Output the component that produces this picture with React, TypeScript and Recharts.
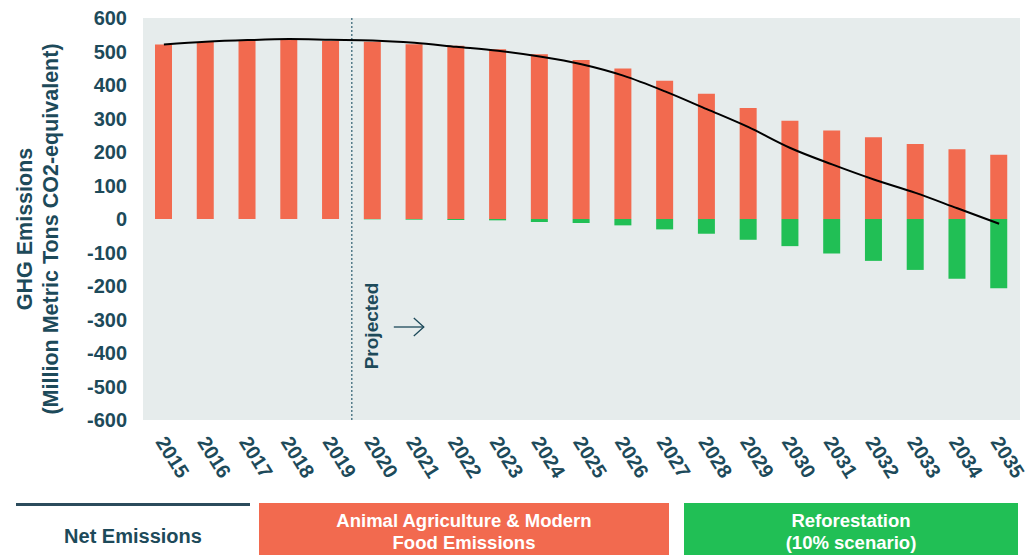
import React from 'react';
import { ComposedChart, Bar, Line, XAxis, YAxis, CartesianGrid, ReferenceLine } from 'recharts';

const years = ['2015','2016','2017','2018','2019','2020','2021','2022','2023','2024','2025','2026','2027','2028','2029','2030','2031','2032','2033','2034','2035'];
const foodEmissions = [521, 528, 531, 534, 531, 529, 522, 517, 507, 492, 475, 449, 413, 374, 331, 293, 264, 244, 224, 208, 192];
const reforestation = [0, 0, 0, 0, 0, -1, -2, -3, -4, -9, -12, -19, -31, -44, -62, -81, -103, -125, -152, -178, -207];
const netEmissions = [521, 529, 534, 537, 535, 533, 526, 514, 502, 485, 462, 428, 381, 328, 274, 212, 163, 118, 78, 32, -14];
const yTicks = [-600, -500, -400, -300, -200, -100, 0, 100, 200, 300, 400, 500, 600];

const data = years.map((year, i) => ({
  year,
  food: foodEmissions[i],
  forest: reforestation[i],
  net: netEmissions[i],
}));

const TEXT = '#1d4a5a';
const ORANGE = '#f26a4f';
const GREEN = '#21bf55';
const FONT = "'Liberation Sans', Arial, Helvetica, sans-serif";

const XTick = (props: any) => {
  const { x, y, payload } = props;
  const tx = x - 9;
  const ty = y + 14;
  return (
    <text x={tx} y={ty} transform={`rotate(58, ${tx}, ${ty})`} textAnchor="start" fill={TEXT}
      fontSize={20} fontWeight={700} fontFamily={FONT}>
      {payload.value}
    </text>
  );
};

const YLabel = (props: any) => {
  const vb = props.viewBox || { x: 0, y: 18, width: 143, height: 402 };
  const cy = vb.y + vb.height / 2 + 10;
  return (
    <g fill={TEXT} fontSize={21.5} fontWeight={700} fontFamily={FONT}>
      <text x={25} y={cy} transform={`rotate(-90, 25, ${cy})`} textAnchor="middle" dominantBaseline="central">GHG Emissions</text>
      <text x={51} y={cy} transform={`rotate(-90, 51, ${cy})`} textAnchor="middle" dominantBaseline="central">(Million Metric Tons CO2-equivalent)</text>
    </g>
  );
};

const ProjectedLabel = (props: any) => {
  const vb = props.viewBox || { x: 351, y: 18, height: 402 };
  const lx = vb.x + 20;
  const ly = vb.y + 308;
  const ax = vb.x + 42;
  const ay = vb.y + 309;
  return (
    <g>
      <text x={lx} y={ly} transform={`rotate(-90, ${lx}, ${ly})`} textAnchor="middle" dominantBaseline="central"
        fill={TEXT} fontSize={19} fontWeight={700} fontFamily={FONT}>Projected</text>
      <line x1={ax} y1={ay} x2={ax + 30} y2={ay} stroke={TEXT} strokeWidth={1.3} />
      <polyline points={`${ax + 20},${ay - 9} ${ax + 30},${ay} ${ax + 20},${ay + 9}`} fill="none" stroke={TEXT} strokeWidth={1.3} />
    </g>
  );
};

export default function App() {
  return (
    <div style={{ position: 'absolute', left: 0, top: 0, width: 1036, height: 555, background: '#fff', fontFamily: FONT }}>
      <ComposedChart width={1036} height={495} data={data} stackOffset="sign"
        margin={{ top: 18, right: 16, bottom: 15, left: 0 }}>
        <CartesianGrid horizontal={false} vertical={false} fill="#e6ecec" stroke="none" />
        <XAxis dataKey="year" axisLine={false} tickLine={false} interval={0} height={60} tick={<XTick />} />
        <YAxis type="number" domain={[-600, 600]} ticks={yTicks} width={143} axisLine={false} tickLine={false}
          tickMargin={10} interval={0}
          tick={{ fill: TEXT, fontSize: 20, fontWeight: 700, fontFamily: FONT }}
          label={<YLabel />} />
        <ReferenceLine x="2020" position="start" stroke="#3d6a7a" strokeWidth={1.3} strokeDasharray="2 2" label={<ProjectedLabel />} />
        <Bar dataKey="food" stackId="a" fill={ORANGE} barSize={17} isAnimationActive={false} />
        <Bar dataKey="forest" stackId="a" fill={GREEN} barSize={17} isAnimationActive={false} />
        <Line dataKey="net" type="monotone" stroke="#000" strokeWidth={2} dot={false} activeDot={false} isAnimationActive={false} />
      </ComposedChart>

      <div style={{ position: 'absolute', left: 16, top: 503, width: 234, height: 3, background: '#2b4b5c' }} />
      <div style={{ position: 'absolute', left: 16, top: 517, width: 234, height: 38, display: 'flex', alignItems: 'center', justifyContent: 'center', color: TEXT, fontSize: 20, fontWeight: 700 }}>
        Net Emissions
      </div>
      <div style={{ position: 'absolute', left: 259, top: 503, width: 410, height: 52, paddingTop: 5, boxSizing: 'border-box', background: ORANGE, color: '#fff', fontSize: 18.5, fontWeight: 700, lineHeight: '22px', display: 'flex', flexDirection: 'column', alignItems: 'center', justifyContent: 'center', textAlign: 'center' }}>
        <div>Animal Agriculture &amp; Modern</div>
        <div>Food Emissions</div>
      </div>
      <div style={{ position: 'absolute', left: 684, top: 503, width: 334, height: 52, paddingTop: 5, boxSizing: 'border-box', background: GREEN, color: '#fff', fontSize: 18.5, fontWeight: 700, lineHeight: '22px', display: 'flex', flexDirection: 'column', alignItems: 'center', justifyContent: 'center', textAlign: 'center' }}>
        <div>Reforestation</div>
        <div>(10% scenario)</div>
      </div>
    </div>
  );
}
